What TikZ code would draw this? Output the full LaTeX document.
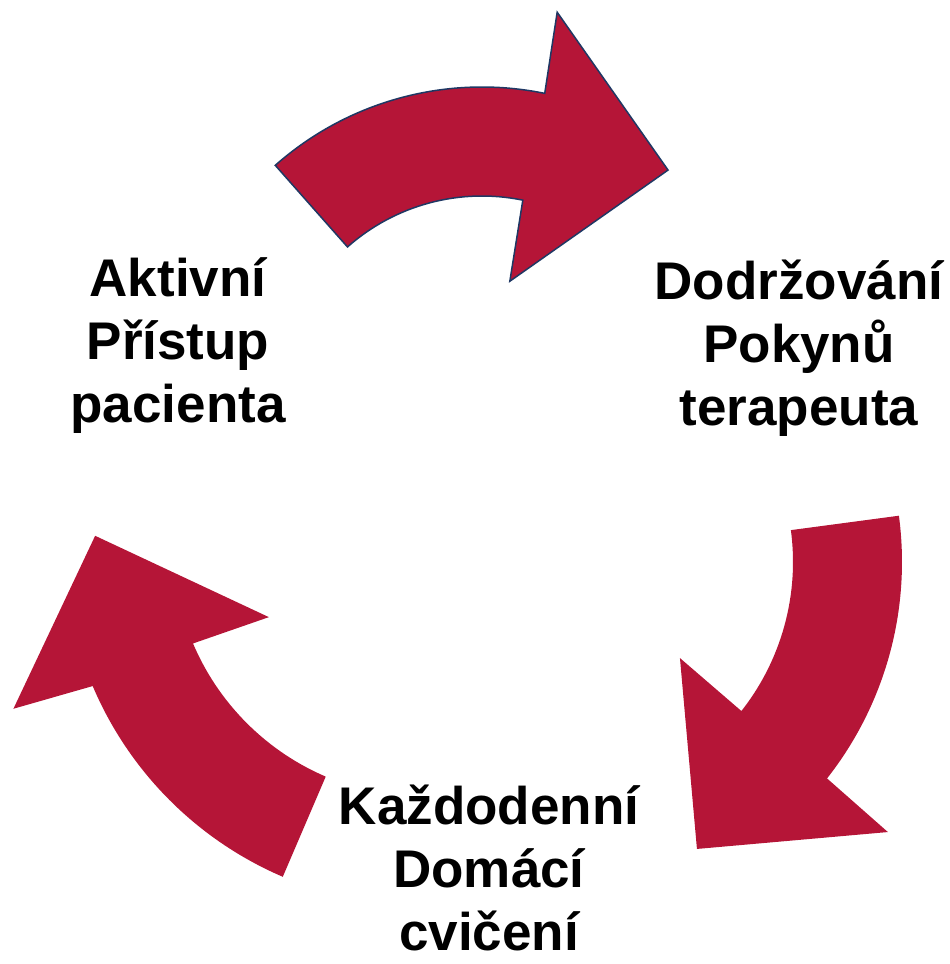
\documentclass[tikz,border=0pt]{standalone}
\usepackage{fontspec}
\setmainfont{Liberation Sans}
\usepackage{tikz}
\usetikzlibrary{positioning}
\definecolor{arrowred}{RGB}{181,21,55}
\definecolor{arrowline}{RGB}{31,56,100}
\tikzset{cyclearrow/.style={fill=arrowred},
  steplabel/.style={font=\bfseries\fontsize{53}{63}\selectfont,align=center,inner sep=0pt,anchor=base}}

\begin{document}
\begin{tikzpicture}[x=1pt,y=1pt]
  \useasboundingbox (0,0) rectangle (950,964);

  % top arrow
  \begin{scope}[shift={(482,565)}]
    \coordinate (ctop) at (0,0);
    \filldraw[cyclearrow,draw=arrowline,line width=1.5pt,line join=miter]
      (131.5:312pt) arc[start angle=131.5,end angle=78.4,radius=312pt]
      -- (79:394pt) -- (50.9:295pt) -- (76.7:121pt) -- (78.4:203pt)
      arc[start angle=78.4,end angle=131.5,radius=203pt] -- cycle;
  \end{scope}

  % right arrow
  \begin{scope}[shift={(552,402)}]
    \coordinate (cright) at (0,0);
    \fill[cyclearrow]
      (7.6:350pt) arc[start angle=7.6,end angle=-38.2,radius=350pt]
      -- (-38.8:431pt) -- (-63.2:321.5pt) -- (-36.9:160pt) -- (-38.2:241pt)
      arc[start angle=-38.2,end angle=7.6,radius=241pt] -- cycle;
  \end{scope}

  % left arrow
  \begin{scope}[shift={(425,419)}]
    \coordinate (cleft) at (0,0);
    \fill[cyclearrow]
      (246.8:361pt) arc[start angle=246.8,end angle=203,radius=361pt]
      -- (201.7:443pt) -- (178.4:330pt) -- (204.8:172pt) -- (203:252pt)
      arc[start angle=203,end angle=246.8,radius=252pt] -- cycle;
  \end{scope}

  % labels (base = last line)
  \node[steplabel] (aktivni) at (178,541) {Aktivní\\Přístup\\pacienta};
  \node[steplabel] (dodrzovani) at (799,538) {Dodržování\\Pokynů\\terapeuta};
  \node[steplabel] (kazdodenni) at (489,13) {Každodenní\\Domácí\\cvičení};
\end{tikzpicture}
\end{document}
